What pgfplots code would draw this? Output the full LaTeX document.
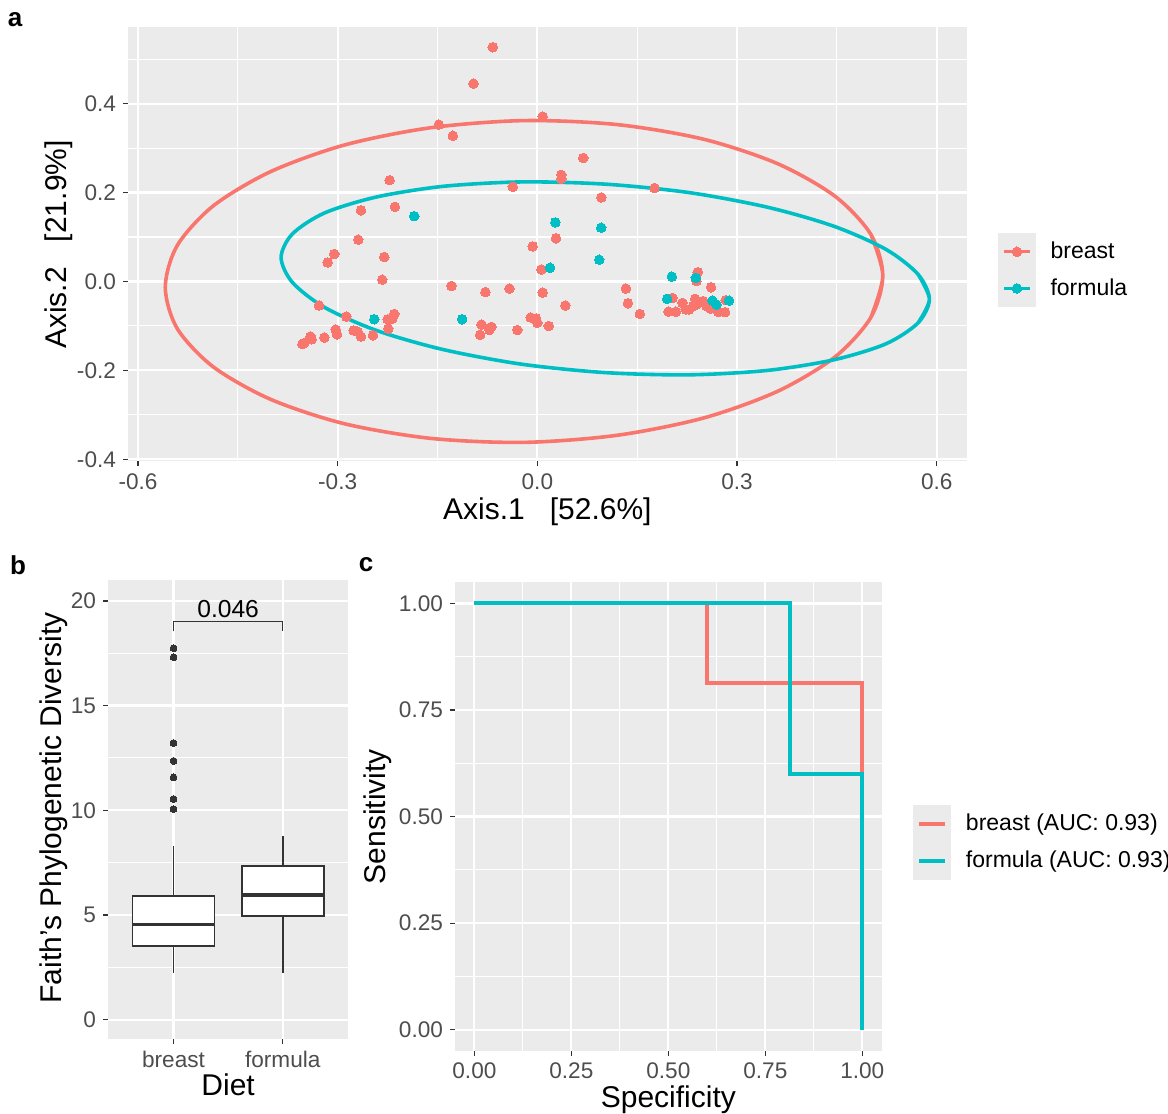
\documentclass[border=0pt]{standalone}
\usepackage{pgfplots}
\pgfplotsset{compat=1.18}
\usepgfplotslibrary{statistics}
\usepackage{fontspec}
\setmainfont{Liberation Sans}
\definecolor{ggred}{HTML}{F8766D}
\definecolor{ggteal}{HTML}{00BFC4}
\definecolor{panelbg}{HTML}{EBEBEB}
\definecolor{gg20}{HTML}{333333}
\definecolor{gg30}{HTML}{4D4D4D}
\pgfplotsset{
  gg/.style={
    scale only axis,
    anchor=south west,
    axis background/.style={fill=panelbg},
    axis line style={draw=none},
    grid=both,
    major grid style={draw=white, line width=1.1pt},
    minor grid style={draw=white, line width=0.55pt},
    tick align=outside,
    major tick length=2.5pt,
    minor tick length=0pt,
    tick style={draw=gg20, line width=0.6pt},
    xtick pos=left, ytick pos=left,
    tick label style={text=gg30, font=\fontsize{11.3}{13.5}\selectfont},
    label style={font=\fontsize{15}{18}\selectfont, text=black},
    legend style={draw=none, fill=none, inner sep=0pt, anchor=north west,
      row sep=0pt, column sep=7.5pt, font=\fontsize{11.5}{13.5}\selectfont,
      nodes={inner sep=0pt, text depth=0.15em}},
    legend cell align=left,
  },
}
\begin{document}
\begin{tikzpicture}
\useasboundingbox (0,0) rectangle (584pt,557pt);

% ---------------- panel a ----------------
\begin{axis}[gg,
  at={(64pt,326.25pt)}, width=419.35pt, height=217pt,
  xmin=-0.615, xmax=0.645, ymin=-0.405, ymax=0.5715,
  xtick={-0.6,-0.3,0,0.3,0.6}, xticklabels={-0.6,-0.3,0.0,0.3,0.6},
  minor xtick={-0.45,-0.15,0.15,0.45},
  ytick={-0.4,-0.2,0,0.2,0.4}, yticklabels={-0.4,-0.2,0.0,0.2,0.4},
  minor ytick={-0.3,-0.1,0.1,0.3,0.5},
  xlabel={Axis.1\ \ \ [52.6\%]}, ylabel={Axis.2\ \ \ [21.9\%]},
  xlabel style={at={(axis description cs:0.5,-0.1157)}, anchor=center},
  ylabel style={at={(axis description cs:-0.0823,0.5)}, anchor=center},
  legend style={at={(axis description cs:1.0373,0.5265)}},
  legend image code/.code={
    \fill[panelbg] (-2pt,-8.375pt) rectangle (15pt,8.375pt);
    \draw[mark repeat=2, mark phase=2, #1] plot coordinates {(0pt,0pt) (6.5pt,0pt) (13pt,0pt)};
  },
]
\addplot[forget plot, only marks, color=ggred, mark=*, mark size=2.4pt, mark options={draw=ggred, fill=ggred, line width=0pt}] coordinates {
(-0.067,0.527) (-0.096,0.445) (-0.148,0.353) (-0.127,0.328) (0.008,0.371)
(-0.222,0.228) (-0.037,0.213) (-0.265,0.160) (-0.214,0.168) (-0.269,0.094)
(-0.007,0.079) (-0.305,0.062) (-0.230,0.055) (-0.315,0.043) (-0.233,0.004)
(0.006,0.027) (0.008,-0.025) (-0.129,-0.010) (-0.078,-0.024) (-0.042,-0.016)
(-0.328,-0.054) (-0.287,-0.079) (-0.225,-0.085) (-0.218,-0.084) (-0.215,-0.073)
(-0.224,-0.106) (-0.084,-0.097) (-0.069,-0.102) (-0.072,-0.109) (-0.086,-0.120)
(-0.030,-0.109) (-0.010,-0.081) (-0.002,-0.083) (0.000,-0.093) (0.017,-0.100)
(-0.303,-0.108) (-0.301,-0.119) (-0.276,-0.110) (-0.270,-0.113) (-0.265,-0.124)
(-0.247,-0.121) (-0.320,-0.126) (-0.341,-0.124) (-0.339,-0.130) (-0.353,-0.141)
(-0.350,-0.138) (0.069,0.278) (0.036,0.240) (0.036,0.231) (0.176,0.210)
(0.096,0.189) (0.028,0.097) (0.042,-0.054) (0.133,-0.016) (0.136,-0.049)
(0.154,-0.073) (0.203,-0.037) (0.197,-0.068) (0.208,-0.068) (0.218,-0.048)
(0.223,-0.063) (0.228,-0.063) (0.237,-0.039) (0.239,-0.052) (0.234,-0.056)
(0.241,0.021) (0.239,0.001) (0.261,-0.013) (0.254,-0.055) (0.260,-0.061)
(0.255,-0.052) (0.283,-0.042) (0.272,-0.069) (0.282,-0.069) (0.249,-0.044)
};
\addplot[forget plot, only marks, color=ggteal, mark=*, mark size=2.4pt, mark options={draw=ggteal, fill=ggteal, line width=0pt}] coordinates {
(-0.185,0.147) (0.019,0.031) (-0.245,-0.085) (-0.113,-0.085) (0.027,0.133)
(0.096,0.121) (0.093,0.049) (0.202,0.011) (0.195,-0.039) (0.238,0.008)
(0.263,-0.043) (0.269,-0.052) (0.288,-0.043)
};
% ellipses (stat_ellipse outlines)
\addplot[forget plot, ggred, line width=1.8pt, smooth, no marks] coordinates {
(0.501,0.106) (0.519,0.013) (0.501,-0.081) (0.447,-0.170) (0.361,-0.247) (0.250,-0.307)
(0.120,-0.346) (-0.020,-0.362) (-0.160,-0.353) (-0.290,-0.320) (-0.401,-0.265)
(-0.487,-0.192) (-0.541,-0.106) (-0.559,-0.013) (-0.541,0.081) (-0.487,0.170)
(-0.401,0.247) (-0.290,0.307) (-0.160,0.346) (-0.020,0.362) (0.120,0.353)
(0.250,0.320) (0.361,0.265) (0.447,0.192) (0.501,0.106) (0.519,0.013) (0.501,-0.081)
};
\addplot[forget plot, ggteal, line width=1.8pt, smooth, no marks] coordinates {
(0.572,0.016) (0.589,-0.040) (0.572,-0.093) (0.524,-0.140) (0.446,-0.176) (0.346,-0.200)
(0.228,-0.210) (0.102,-0.205) (-0.024,-0.186) (-0.142,-0.153) (-0.242,-0.110)
(-0.320,-0.058) (-0.368,-0.002) (-0.385,0.054) (-0.368,0.107) (-0.320,0.154)
(-0.242,0.190) (-0.142,0.214) (-0.024,0.224) (0.102,0.219) (0.228,0.200)
(0.346,0.167) (0.446,0.124) (0.524,0.072) (0.572,0.016) (0.589,-0.040) (0.572,-0.093)
};
\addlegendimage{ggred, line width=1.6pt, mark=*, mark size=2.4pt, mark options={draw=ggred, fill=ggred, line width=0pt}}
\addlegendentry{breast}
\addlegendimage{ggteal, line width=1.6pt, mark=*, mark size=2.4pt, mark options={draw=ggteal, fill=ggteal, line width=0pt}}
\addlegendentry{formula}
\node[anchor=west, inner sep=0pt, font=\fontsize{15}{18}\selectfont] at (axis description cs:1.0373,0.591) {Diet};
\end{axis}

% ---------------- panel b ----------------
\begin{axis}[gg,
  at={(54pt,37.35pt)}, width=120.15pt, height=229.45pt,
  xmin=0.4, xmax=2.6, ymin=-0.94, ymax=20.98,
  xtick={1,2}, xticklabels={breast,formula},
  ytick={0,5,10,15,20}, yticklabels={0,5,10,15,20},
  minor ytick={2.5,7.5,12.5,17.5},
  xlabel={Diet}, ylabel={Faith\char"27 s Phylogenetic Diversity},
  xlabel style={at={(axis description cs:0.5,-0.0996)}, anchor=center},
  ylabel style={at={(axis description cs:-0.2247,0.504)}, anchor=center},
  boxplot/draw direction=y,
]
\addplot[draw=gg20, line width=0.9pt, fill=white,
  boxplot prepared={draw direction=y, draw position=1, lower whisker=2.25, lower quartile=3.50,
    median=4.55, upper quartile=5.92, upper whisker=8.31, box extend=0.75, whisker extend=0,
    every median/.style={line width=1.8pt}},
  mark=*, mark size=1.7pt, mark options={draw=gg20, fill=gg20, line width=0pt}]
  table[row sep=\\, y index=0] {v\\17.74\\17.31\\13.21\\12.36\\11.57\\10.54\\10.06\\};
\addplot[draw=gg20, line width=0.9pt, fill=white,
  boxplot prepared={draw direction=y, draw position=2, lower whisker=2.22, lower quartile=4.94,
    median=5.95, upper quartile=7.32, upper whisker=8.78, box extend=0.75, whisker extend=0,
    every median/.style={line width=1.8pt}}]
  coordinates {};
\addplot[gg20, line width=0.6pt, no marks] coordinates {(1,18.54) (1,19.02) (2,19.02) (2,18.54)};
\node[anchor=base, inner sep=0pt, font=\fontsize{12.3}{14}\selectfont] at (axis cs:1.5,19.2) {0.046};
\end{axis}

% ---------------- panel c ----------------
\begin{axis}[gg,
  at={(227.5pt,31.5pt)}, width=213.35pt, height=234.45pt,
  xmin=-0.05, xmax=1.05, ymin=-0.05, ymax=1.05,
  xtick={0,0.25,0.5,0.75,1}, xticklabels={0.00,0.25,0.50,0.75,1.00},
  minor xtick={0.125,0.375,0.625,0.875},
  ytick={0,0.25,0.5,0.75,1}, yticklabels={0.00,0.25,0.50,0.75,1.00},
  minor ytick={0.125,0.375,0.625,0.875},
  xlabel={Specificity}, ylabel={Sensitivity},
  xlabel style={at={(axis description cs:0.5,-0.1045)}, anchor=center},
  ylabel style={at={(axis description cs:-0.1805,0.5)}, anchor=center},
  legend style={at={(axis description cs:1.0733,0.5246)}},
  legend image code/.code={
    \fill[panelbg] (-2pt,-8.375pt) rectangle (15pt,8.375pt);
    \draw[#1] (0pt,0pt) -- (13pt,0pt);
  },
]
\addplot[forget plot, ggred, line width=2pt, no marks] coordinates {
(0,1) (0.6,1) (0.6,0.8125) (1,0.8125) (1,0.6) (1,0)};
\addplot[forget plot, ggteal, line width=2pt, no marks] coordinates {
(0,1) (0.8125,1) (0.8125,0.6) (1,0.6) (1,0)};
\addlegendimage{ggred, line width=1.8pt}
\addlegendentry{breast (AUC: 0.93)}
\addlegendimage{ggteal, line width=1.8pt}
\addlegendentry{formula (AUC: 0.93)}
\node[anchor=west, inner sep=0pt, font=\fontsize{15}{18}\selectfont] at (axis description cs:1.0733,0.5843) {Diet};
\end{axis}

% panel letters
\node[font=\bfseries\fontsize{13}{15}\selectfont, inner sep=0pt] at (7.5pt,547pt) {a};
\node[font=\bfseries\fontsize{13}{15}\selectfont, inner sep=0pt] at (9pt,274.5pt) {b};
\node[font=\bfseries\fontsize{13}{15}\selectfont, inner sep=0pt] at (183pt,274.5pt) {c};
\end{tikzpicture}
\end{document}
